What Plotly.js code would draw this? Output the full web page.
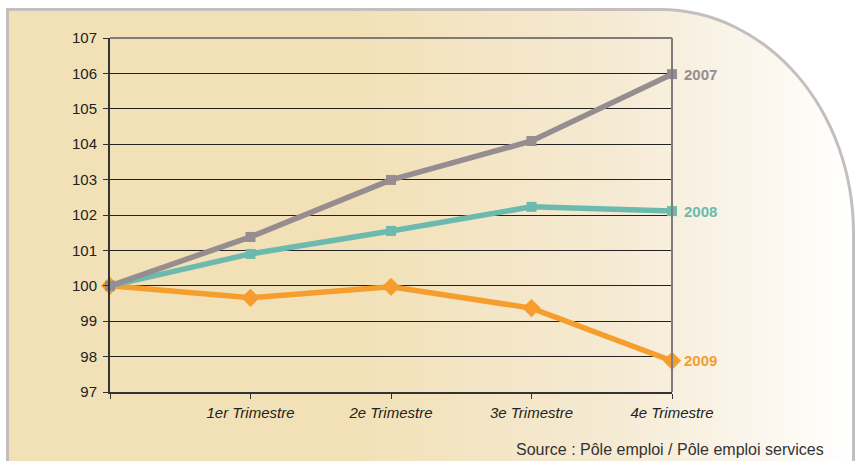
<!DOCTYPE html>
<html>
<head>
<meta charset="utf-8">
<script src="https://cdn.plot.ly/plotly-3.0.1.min.js"></script>
<style>
html,body{margin:0;padding:0;background:#fff;}
#wrap{position:relative;width:858px;height:461px;overflow:hidden;}
#bg{position:absolute;left:6px;top:8px;width:843px;height:480px;
  border-left:3px solid #C4BFBE;border-top:3px solid #C4BFBE;border-right:3px solid #C4BFBE;
  border-top-right-radius:195px 225px;
  background:linear-gradient(to right,#F2E1B6 0%,#F2E1B6 40%,#F5EAD3 72%,#FFFFFF 100%);}
#chart{position:absolute;left:0;top:0;width:858px;height:461px;}
</style>
</head>
<body>
<div id="wrap"><div id="bg"></div><div id="chart"></div></div>
<script>
var positions = [0, 1, 2, 3, 4];
var categories = ["", "1er Trimestre", "2e Trimestre", "3e Trimestre", "4e Trimestre"];
var seriesNames = ["2007", "2008", "2009"];
var values2007 = [100, 101.38, 102.99, 104.09, 105.98];
var values2008 = [100, 100.90, 101.55, 102.23, 102.11];
var values2009 = [100, 99.66, 99.97, 99.37, 97.88];
var yTicks = [97, 98, 99, 100, 101, 102, 103, 104, 105, 106, 107];
var sourceText = "Source : Pôle emploi / Pôle emploi services";

var colors = ["#958D8F", "#6CBAAE", "#F59E2E"];
var symbols = ["square", "square", "diamond"];
var sizes = [10, 10, 14];
var allValues = [values2007, values2008, values2009];
var FONT = "Liberation Sans, Arial, sans-serif";

var traces = allValues.map(function(v, i){
  return {x: positions, y: v, type: "scatter", mode: "lines+markers", name: seriesNames[i],
    line: {color: colors[i], width: 5.5}, marker: {color: colors[i], symbol: symbols[i], size: sizes[i]},
    cliponaxis: false, hoverinfo: "skip"};
});
traces.reverse();

var annotations = allValues.map(function(v, i){
  return {x: positions[positions.length-1], y: v[v.length-1], xref: "x", yref: "y",
    text: "<b>" + seriesNames[i] + "</b>", showarrow: false, xanchor: "left", yanchor: "middle",
    xshift: 10, font: {family: FONT, size: 15, color: colors[i]}};
});
annotations.push({x: (826 - 110) / (672 - 110), y: (392 - 449) / (392 - 38), xref: "paper", yref: "paper",
  text: sourceText, showarrow: false, xanchor: "right", yanchor: "middle",
  font: {family: FONT, size: 16, color: "#333"}});

var layout = {
  width: 858, height: 461,
  margin: {l: 110, r: 186, t: 38, b: 69, pad: 0},
  paper_bgcolor: "rgba(0,0,0,0)", plot_bgcolor: "rgba(0,0,0,0)",
  showlegend: false,
  font: {family: FONT, size: 15, color: "#222"},
  xaxis: {range: [0, 4], tickvals: positions, ticktext: categories, showgrid: false, zeroline: false,
    showline: true, linecolor: "#333", linewidth: 2, ticks: "outside", ticklen: 5, tickcolor: "#333",
    tickfont: {family: FONT, size: 15, style: "italic", color: "#222"},
    ticklabelstandoff: 1, fixedrange: true},
  yaxis: {range: [97, 107], tickvals: yTicks, showgrid: true, gridcolor: "#222", gridwidth: 1, zeroline: false,
    showline: true, linecolor: "#333", linewidth: 2, ticks: "outside", ticklen: 5, tickcolor: "#333",
    tickfont: {family: FONT, size: 15, color: "#222"}, ticklabelstandoff: 3, fixedrange: true},
  shapes: [
    {type: "line", xref: "paper", yref: "paper", x0: 0, x1: 1, y0: 1, y1: 1, line: {color: "#7f7b7b", width: 2}},
    {type: "line", xref: "paper", yref: "paper", x0: 1, x1: 1, y0: 0, y1: 1, line: {color: "#7f7b7b", width: 2}}
  ],
  annotations: annotations
};

Plotly.newPlot("chart", traces, layout, {displayModeBar: false, staticPlot: true});
</script>
</body>
</html>
